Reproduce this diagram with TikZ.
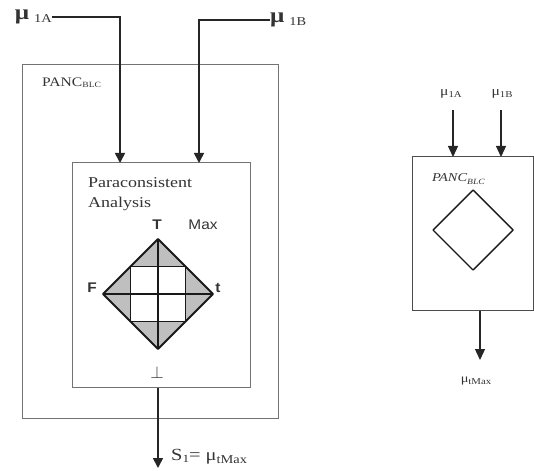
\documentclass[tikz,border=0pt]{standalone}
\usepackage{fontspec}
\setmainfont{Liberation Serif}[FakeStretch=1.2]
\newfontfamily\sansf{Liberation Sans}[FakeStretch=1.1]
\usetikzlibrary{arrows.meta}
\newcommand{\fsz}[1]{\fontsize{#1}{#1}\selectfont}
\begin{document}
\begin{tikzpicture}[x=1pt,y=-1pt,
 arr/.style={draw=black!85, line width=1.6pt, -{Triangle[width=10pt,length=10pt]}},
 rarr/.style={draw=black!85, line width=1.3pt, -{Triangle[width=10pt,length=11pt]}},
 box/.style={draw=black!55, line width=1pt, inner sep=0pt},
 lbl/.style={inner sep=0pt, text=black!80},
 dline/.style={draw=black!90, line width=1.8pt, line join=round},
]
\useasboundingbox (0,0) rectangle (534,470);

% ---------- left part ----------
\node[box, minimum width=256pt, minimum height=353pt] (outer) at (150,241.5) {};
\node[box, minimum width=178pt, minimum height=224pt] (inner) at (161,275) {};

\node[lbl, anchor=base west] (panc) at (42,87) {\fsz{13}PANC\raisebox{-1pt}{\fsz{8}BLC}};
\node[lbl, anchor=north west, align=left, font=\fontsize{15}{20}\selectfont] (para) at (88,177) {Paraconsistent\\Analysis};

\node[lbl, anchor=east] (m1A) at (52,17) {{\fsz{21}\bfseries μ}\hspace{5pt}\raisebox{-3pt}{\fsz{12}1A}};
\node[lbl, anchor=west] (m1B) at (270,20) {{\fsz{21}\bfseries μ}\hspace{5pt}\raisebox{-3pt}{\fsz{12}1B}};

\coordinate (a1) at (120,163);
\coordinate (a2) at (199,163);
\draw[arr] (m1A.east) -| (a1);
\draw[arr] (m1B.west) -| (a2);

% lattice diagram
\fill[gray!50] (158,239) -- (213,294) -- (158,349) -- (103,294) -- cycle;
\fill[white] (130.5,266.5) rectangle (185.5,321.5);
\draw[dline, line width=1.4pt] (130.5,266.5) rectangle (185.5,321.5);
\draw[dline] (158,239) -- (213,294) -- (158,349) -- (103,294) -- cycle;
\draw[dline] (158,239) -- (158,349);
\draw[dline] (103,294) -- (213,294);

\node[lbl, font=\sansf\bfseries\fsz{14}] (lT) at (157,225) {T};
\node[lbl, font=\sansf\fsz{14}] (lMax) at (203,225) {Max};
\node[lbl, font=\sansf\bfseries\fsz{14}] (lF) at (92,288) {F};
\node[lbl, font=\sansf\bfseries\fsz{14}] (lt) at (218,288) {t};
\node[lbl] (lbot) at (157,372) {\fsz{18}$\bot$};

\coordinate (o1) at (158,468);
\draw[arr] (inner.south -| o1) -- (o1);
\node[lbl, anchor=west] (s1) at (171,457) {\fsz{17}S\raisebox{-2pt}{\fsz{11}1}= μ\raisebox{-3pt}{\fsz{12}tMax}};

% ---------- right part ----------
\node[box, draw=black!70, minimum width=121pt, minimum height=153pt] (rbox) at (472.5,233.5) {};
\node[lbl] (r1A) at (451,94) {\fsz{13}μ\raisebox{-2pt}{\fsz{9}1A}};
\node[lbl] (r1B) at (502,94) {\fsz{13}μ\raisebox{-2pt}{\fsz{9}1B}};
\coordinate (ra1) at (453,157);
\coordinate (ra2) at (501,157);
\draw[rarr] (ra1 |- 0,110) -- (ra1);
\draw[rarr] (ra2 |- 0,110) -- (ra2);
\node[lbl, anchor=base west] (rpanc) at (432,182) {\itshape\fsz{12}PANC\raisebox{-2pt}{\fsz{8}BLC}};
\draw[dline, line width=1.4pt] (473,190) -- (513,230) -- (473,270) -- (433,230) -- cycle;
\coordinate (ro) at (480,360);
\draw[rarr] (rbox.south -| ro) -- (ro);
\node[lbl] (rout) at (476,381) {\fsz{12}μ\raisebox{-2pt}{\fsz{9}tMax}};
\end{tikzpicture}
\end{document}
